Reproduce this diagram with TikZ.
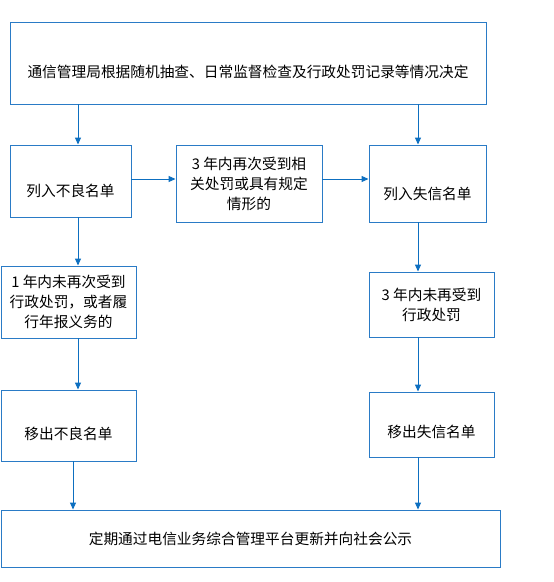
\documentclass[tikz,border=0pt]{standalone}
\usepackage{fontspec}
\setmainfont{Noto Sans CJK SC}
\usetikzlibrary{arrows.meta, positioning}
\definecolor{flowblue}{HTML}{2A7BC6}
\definecolor{arrowblue}{HTML}{0D6FC0}
\tikzset{every node/.style={font=\fontsize{14.7pt}{20pt}\selectfont}}

\begin{document}
\begin{tikzpicture}[x=1pt, y=-1pt,
    stepbox/.style={draw=flowblue, line width=0.9pt, rectangle, align=center, inner sep=2pt},
    lowtext/.style={text height=11.5pt+#1, text depth=3pt},
    arr/.style={draw=arrowblue, line width=1pt, -{Triangle[length=7pt, width=6pt]}}]
  \useasboundingbox (0,0) rectangle (554,582);
  % boxes
  \node[stepbox, lowtext=20pt, minimum width=476pt, minimum height=82pt] (top) at (248,63) {通信管理局根据随机抽查、日常监督检查及行政处罚记录等情况决定};
  \node[stepbox, lowtext=22pt, minimum width=121pt, minimum height=72pt] (listbad) at (70.5,181) {列入不良名单};
  \node[stepbox, minimum width=146pt, minimum height=77pt] (again) at (249,183.5) {3 年内再次受到相\\关处罚或具有规定\\情形的};
  \node[stepbox, lowtext=23pt, minimum width=117pt, minimum height=77pt] (listfail) at (427.5,183.5) {列入失信名单};
  \node[stepbox, minimum width=135pt, minimum height=72pt] (oneyear) at (68.5,302) {1 年内未再次受到\\行政处罚，或者履\\行年报义务的};
  \node[stepbox, minimum width=125pt, minimum height=65pt] (threeyear) at (431.5,304.5) {3 年内未再受到\\行政处罚};
  \node[stepbox, lowtext=19pt, minimum width=135pt, minimum height=71pt] (outbad) at (68.5,425.5) {移出不良名单};
  \node[stepbox, lowtext=17pt, minimum width=125pt, minimum height=65pt] (outfail) at (431.5,424.5) {移出失信名单};
  \node[stepbox, minimum width=499pt, minimum height=57pt] (publish) at (250.5,538.5) {定期通过电信业务综合管理平台更新并向社会公示};
  % column lines
  \coordinate (lcol) at (78,0);
  \coordinate (lcolb) at (73,0);
  \coordinate (rcol) at (418,0);
  % arrows
  \draw[arr] (top.south -| lcol) -- (listbad.north -| lcol);
  \draw[arr] (top.south -| rcol) -- (listfail.north -| rcol);
  \draw[arr] (listbad.east |- 0,179) -- (again.west |- 0,179);
  \draw[arr] (again.east |- 0,179) -- (listfail.west |- 0,179);
  \draw[arr] (listbad.south -| lcol) -- (oneyear.north -| lcol);
  \draw[arr] (listfail.south -| rcol) -- (threeyear.north -| rcol);
  \draw[arr] (oneyear.south -| lcol) -- (outbad.north -| lcol);
  \draw[arr] (threeyear.south -| rcol) -- (outfail.north -| rcol);
  \draw[arr] (outbad.south -| lcolb) -- (publish.north -| lcolb);
  \draw[arr] (outfail.south -| rcol) -- (publish.north -| rcol);
\end{tikzpicture}
\end{document}
